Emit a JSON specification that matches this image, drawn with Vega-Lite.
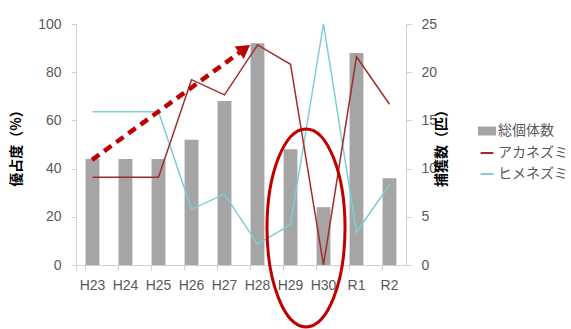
{
  "$schema": "https://vega.github.io/schema/vega-lite/v6.json",
  "width": 330,
  "height": 241,
  "autosize": {"type": "none"},
  "padding": {"left": 76, "top": 24, "right": 165, "bottom": 64},
  "background": "white",
  "config": {
    "view": {"stroke": null},
    "font": "Noto Sans CJK JP",
    "axis": {
      "labelFont": "Liberation Sans",
      "labelFontSize": 14,
      "labelColor": "#595959",
      "domainColor": "#d0d0d0",
      "tickColor": "#d0d0d0",
      "grid": false,
      "titleFont": "Noto Sans CJK JP",
      "titleFontSize": 14,
      "titleFontWeight": "bold",
      "titleColor": "#000000"
    }
  },
  "datasets": {
    "counts": [
      {"year": "H23", "total": 11},
      {"year": "H24", "total": 11},
      {"year": "H25", "total": 11},
      {"year": "H26", "total": 13},
      {"year": "H27", "total": 17},
      {"year": "H28", "total": 23},
      {"year": "H29", "total": 12},
      {"year": "H30", "total": 6},
      {"year": "R1", "total": 22},
      {"year": "R2", "total": 9}
    ],
    "dominance": [
      {"year": "H23", "species": "ヒメネズミ", "pct": 63.6},
      {"year": "H24", "species": "ヒメネズミ", "pct": 63.6},
      {"year": "H25", "species": "ヒメネズミ", "pct": 63.6},
      {"year": "H26", "species": "ヒメネズミ", "pct": 23.1},
      {"year": "H27", "species": "ヒメネズミ", "pct": 29.4},
      {"year": "H28", "species": "ヒメネズミ", "pct": 8.7},
      {"year": "H29", "species": "ヒメネズミ", "pct": 16.7},
      {"year": "H30", "species": "ヒメネズミ", "pct": 100},
      {"year": "R1", "species": "ヒメネズミ", "pct": 13.6},
      {"year": "R2", "species": "ヒメネズミ", "pct": 33.3},
      {"year": "H23", "species": "アカネズミ", "pct": 36.4},
      {"year": "H24", "species": "アカネズミ", "pct": 36.4},
      {"year": "H25", "species": "アカネズミ", "pct": 36.4},
      {"year": "H26", "species": "アカネズミ", "pct": 76.9},
      {"year": "H27", "species": "アカネズミ", "pct": 70.6},
      {"year": "H28", "species": "アカネズミ", "pct": 91.3},
      {"year": "H29", "species": "アカネズミ", "pct": 83.3},
      {"year": "H30", "species": "アカネズミ", "pct": 0},
      {"year": "R1", "species": "アカネズミ", "pct": 86.4},
      {"year": "R2", "species": "アカネズミ", "pct": 66.7}
    ],
    "trendArrow": [
      {"pos": 0.485, "pct": 43.6},
      {"pos": 4.95, "pct": 88.1}
    ],
    "arrowHead": [
      {"pos": 5.11, "pct": 89.7}
    ],
    "highlight": [
      {"pos": 6.97, "pct": 15.4}
    ]
  },
  "resolve": {"scale": {"x": "independent", "y": "independent"}, "axis": {"x": "independent", "y": "independent"}},
  "layer": [
    {
      "data": {"name": "counts"},
      "mark": {"type": "bar", "color": "#a5a5a5"},
      "encoding": {
        "x": {
          "field": "year", "type": "nominal", "sort": null,
          "scale": {"paddingInner": 0.58, "paddingOuter": 0.29},
          "axis": {"title": null, "labelAngle": 0, "labelPadding": 8, "tickSize": 5, "bandPosition": 0, "tickExtra": true}
        },
        "y": {
          "field": "total", "type": "quantitative",
          "scale": {"domain": [0, 25], "nice": false},
          "axis": {"orient": "right", "title": "捕獲数（匹）", "titleAngle": -90, "values": [0, 5, 10, 15, 20, 25], "tickSize": 5, "labelPadding": 10, "titlePadding": 12}
        },
        "color": {"datum": "総個体数", "type": "nominal"}
      }
    },
    {
      "data": {"name": "dominance"},
      "mark": {"type": "line", "strokeWidth": 1.5},
      "encoding": {
        "x": {
          "field": "year", "type": "nominal", "sort": ["H23","H24","H25","H26","H27","H28","H29","H30","R1","R2"],
          "scale": {"domain": ["H23","H24","H25","H26","H27","H28","H29","H30","R1","R2"], "paddingInner": 0.58, "paddingOuter": 0.29},
          "axis": null
        },
        "y": {
          "field": "pct", "type": "quantitative",
          "scale": {"domain": [0, 100], "nice": false},
          "axis": {"orient": "left", "title": "優占度（%）", "values": [0, 20, 40, 60, 80, 100], "tickSize": 5, "labelPadding": 10, "titlePadding": 14}
        },
        "color": {
          "field": "species", "type": "nominal",
          "scale": {"domain": ["総個体数", "アカネズミ", "ヒメネズミ"], "range": ["#a5a5a5", "#a02c2c", "#7ccfd5"]},
          "legend": {
            "title": null,
            "orient": "none",
            "legendX": 402,
            "legendY": 98,
            "labelFont": "Noto Sans CJK JP",
            "labelFontSize": 14,
            "labelColor": "#595959",
            "rowPadding": 5,
            "symbolSize": 256,
            "labelOffset": 2,
            "encode": {
              "symbols": {
                "update": {
                  "shape": {"signal": "datum.value === '総個体数' ? 'M -1 -0.45 H 1 V 0.45 H -1 Z' : 'M -0.8 0 H 0.8'"},
                  "fill": {"signal": "datum.value === '総個体数' ? '#a5a5a5' : 'transparent'"},
                  "stroke": {"signal": "datum.value === '総個体数' ? '#a5a5a5' : (datum.value === 'アカネズミ' ? '#a02c2c' : '#7ccfd5')"},
                  "strokeWidth": {"value": 2}
                }
              }
            }
          }
        }
      }
    },
    {
      "data": {"name": "trendArrow"},
      "mark": {"type": "line", "color": "#c00000", "strokeWidth": 4.5, "strokeDash": [9, 6]},
      "encoding": {
        "x": {"field": "pos", "type": "quantitative", "scale": {"domain": [0, 10], "nice": false, "zero": false}, "axis": null},
        "y": {"field": "pct", "type": "quantitative", "scale": {"domain": [0, 100], "nice": false}, "axis": null}
      }
    },
    {
      "data": {"name": "arrowHead"},
      "mark": {"type": "point", "shape": "triangle-up", "filled": true, "color": "#c00000", "opacity": 1, "size": 240, "angle": 54},
      "encoding": {
        "x": {"field": "pos", "type": "quantitative", "scale": {"domain": [0, 10], "nice": false, "zero": false}, "axis": null},
        "y": {"field": "pct", "type": "quantitative", "scale": {"domain": [0, 100], "nice": false}, "axis": null}
      }
    },
    {
      "data": {"name": "highlight"},
      "mark": {"type": "point", "shape": "M 0 -1 A 0.394 1 0 1 1 0 1 A 0.394 1 0 1 1 0 -1 Z", "filled": false, "stroke": "#c00000", "strokeWidth": 3, "opacity": 1, "size": 39204},
      "encoding": {
        "x": {"field": "pos", "type": "quantitative", "scale": {"domain": [0, 10], "nice": false, "zero": false}, "axis": null},
        "y": {"field": "pct", "type": "quantitative", "scale": {"domain": [0, 100], "nice": false}, "axis": null}
      }
    }
  ]
}
